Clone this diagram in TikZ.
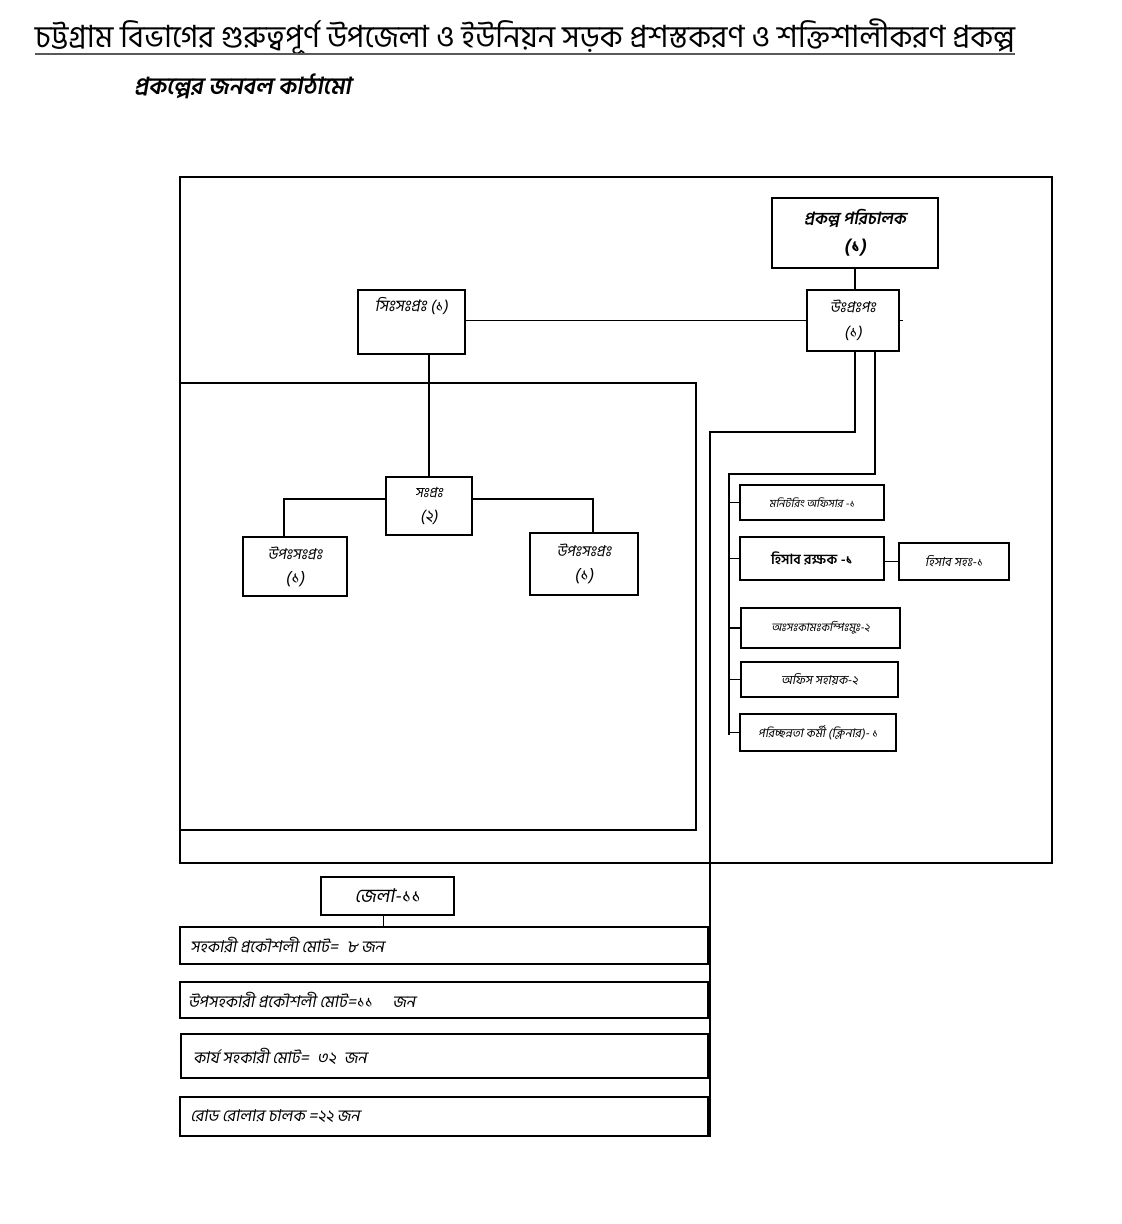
\documentclass[tikz,border=0pt]{standalone}
\usepackage{fontspec}
\newfontfamily\bn[Script=Bengali]{Hind Siliguri}
\newfontfamily\bni[Script=Bengali,FakeSlant=0.18]{Hind Siliguri}
\begin{document}
\begin{tikzpicture}[x=1pt,y=-1pt,line width=1.1pt,
  box/.style={draw,line width=1.1pt,inner sep=0pt,align=center},
  wire/.style={draw,line width=1.1pt},
  frame/.style={draw,line width=1.1pt},
  rowtxt/.style={font=\bni\fontsize{16.3}{18}\selectfont}]
\useasboundingbox[fill=white] (0,0) rectangle (1122,1224);

% title
\node[font=\bn\fontsize{30.6}{33}\selectfont] (title) at (525,37) {চট্টগ্রাম বিভাগের গুরুত্বপূর্ণ উপজেলা ও ইউনিয়ন সড়ক প্রশস্তকরণ ও শক্তিশালীকরণ প্রকল্প};
\draw[line width=1.3pt,black!65] (35,54) -- (1015,54);
\node[font=\bni\bfseries\fontsize{23.5}{26}\selectfont] (sub) at (242.5,86) {প্রকল্পের জনবল কাঠামো};

% frames
\draw[frame] (180,177) rectangle (1052,863);
\draw[frame] (180,383) rectangle (696,830);

% boxes
\node[box,minimum width=166pt,minimum height=70pt,font=\bni\bfseries\fontsize{16.8}{28}\selectfont] (pd) at (855,233) {প্রকল্প পরিচালক\\{\fontsize{19}{28}\selectfont (১)}};
\node[box,minimum width=92pt,minimum height=61pt,font=\bni\fontsize{15}{25}\selectfont] (upp) at (853,320.5) {উঃপ্রঃপঃ\\{\fontsize{16}{25}\selectfont (১)}};
\node[box,minimum width=107pt,minimum height=64pt,
  label={[anchor=north,yshift=-4pt,font=\bni\fontsize{16}{18}\selectfont]north:সিঃসঃপ্রঃ (১)}] (ssp) at (411.5,322) {};
\node[box,minimum width=86pt,minimum height=58pt,font=\bni\fontsize{14}{24}\selectfont] (sp) at (429,506) {সঃপ্রঃ\\{\fontsize{16}{24}\selectfont (২)}};
\node[box,minimum width=104pt,minimum height=59pt,font=\bni\fontsize{15}{24}\selectfont] (ul) at (295,566.5) {উপঃসঃপ্রঃ\\{\fontsize{17}{24}\selectfont (১)}};
\node[box,minimum width=108pt,minimum height=62pt,font=\bni\fontsize{15}{24}\selectfont] (ur) at (584,564) {উপঃসঃপ্রঃ\\{\fontsize{17}{24}\selectfont (১)}};

\node[box,minimum width=144pt,minimum height=35pt,font=\bni\fontsize{11}{13}\selectfont] (mo) at (812,502.5) {মনিটরিং অফিসার -১};
\node[box,minimum width=144pt,minimum height=43pt,font=\bn\bfseries\fontsize{14}{16}\selectfont] (hr) at (812,558.5) {হিসাব রক্ষক -১};
\node[box,minimum width=110pt,minimum height=37pt,font=\bni\fontsize{12.5}{14}\selectfont] (hs) at (954,561.5) {হিসাব সহঃ-১};
\node[box,minimum width=159pt,minimum height=40pt,font=\bni\fontsize{11.5}{13}\selectfont] (ak) at (820.5,628) {অঃসঃকামঃকম্পিঃমুঃ-২};
\node[box,minimum width=157pt,minimum height=35pt,font=\bni\fontsize{12.4}{14}\selectfont] (os) at (819.5,679.5) {অফিস সহায়ক-২};
\node[box,minimum width=156pt,minimum height=37pt,font=\bni\fontsize{12}{14}\selectfont] (cl) at (818,732.5) {পরিচ্ছন্নতা কর্মী (ক্লিনার)- ১};

\node[box,minimum width=133pt,minimum height=38pt,font=\bni\fontsize{19}{21}\selectfont] (zl) at (387.5,896) {জেলা-১১};

\node[box,minimum width=528pt,minimum height=37pt,
  label={[anchor=west,xshift=7pt,rowtxt]west:সহকারী প্রকৌশলী মোট=\enspace ৮ জন}] (r1) at (444,945.5) {};
\node[box,minimum width=528pt,minimum height=36pt,
  label={[anchor=west,xshift=5pt,rowtxt]west:উপসহকারী প্রকৌশলী মোট=১১\quad\ জন}] (r2) at (444,1000) {};
\node[box,minimum width=527pt,minimum height=44pt,
  label={[anchor=west,xshift=9pt,rowtxt]west:কার্য সহকারী মোট=\enspace ৩২\enspace জন}] (r3) at (444.5,1056) {};
\node[box,minimum width=528pt,minimum height=39pt,
  label={[anchor=west,xshift=7pt,rowtxt]west:রোড রোলার চালক =২২ জন}] (r4) at (444,1116.5) {};

% connectors
\coordinate (a1) at (710,432);
\coordinate (b1) at (729,474);
\coordinate (ustub) at (903,320.5);

\draw[wire] (pd.south) -- (pd.south |- upp.north);
\draw[wire] (upp.west) -- (upp.west -| ssp.east);
\draw[wire] (upp.east) -- (ustub);
\draw[wire] (sp.north) -- (sp.north |- ssp.south);
\draw[wire] ([yshift=7pt]sp.west) -| ([xshift=-11pt]ul.north);
\draw[wire] ([yshift=7pt]sp.east) -| ([xshift=9pt]ur.north);
\draw[wire] ([xshift=2pt]upp.south) |- (a1) -- (a1 |- r4.south);
\draw[wire] ([xshift=22pt]upp.south) |- (b1) -- ([yshift=-2pt]b1 |- cl.west);
\draw[wire] (b1 |- mo.west) -- (mo.west);
\draw[wire] (b1 |- hr.west) -- (hr.west);
\draw[wire] (b1 |- ak.west) -- (ak.west);
\draw[wire] (b1 |- os.west) -- (os.west);
\draw[wire] (b1 |- cl.west) -- (cl.west);
\draw[wire] (hs.west) -- (hs.west -| hr.east);
\draw[wire,line width=0.8pt] ([xshift=-4pt]zl.south) -- ([xshift=-4pt]zl.south |- r1.north);
\end{tikzpicture}
\end{document}
